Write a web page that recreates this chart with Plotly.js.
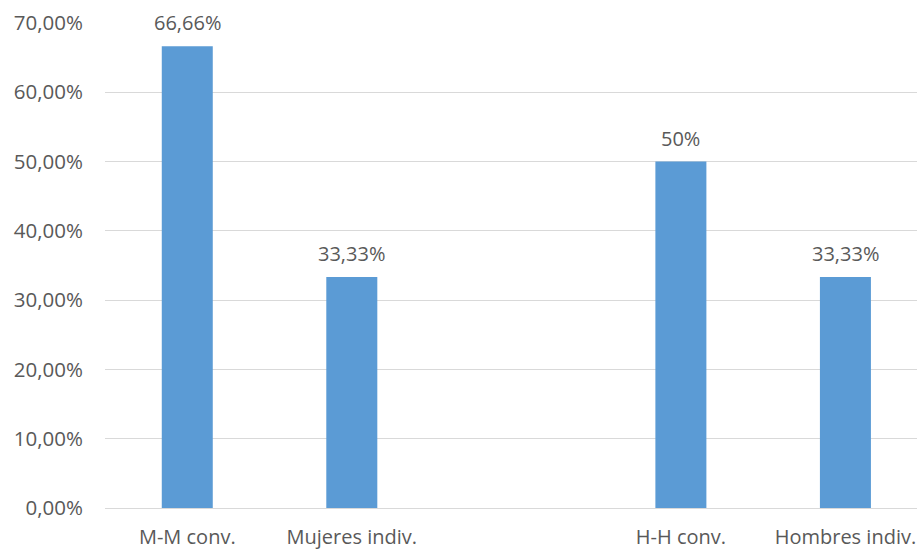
<!DOCTYPE html>
<html>
<head>
<meta charset="utf-8">
<script src="https://cdn.plot.ly/plotly-3.0.1.min.js"></script>
<style>html,body{margin:0;padding:0;background:#fff;}</style>
</head>
<body>
<div id="chart" style="width:917px;height:553px;"></div>
<script>
const categories = ["M-M conv.", "Mujeres indiv.", "H-H conv.", "Hombres indiv."];
const positions = [0, 1, 3, 4];
const values = [0.6666, 0.3333, 0.50, 0.3333];
const valueLabels = ["66,66%", "33,33%", "50%", "33,33%"];
const yTicks = [0, 0.1, 0.2, 0.3, 0.4, 0.5, 0.6, 0.7];

const textColor = "#595959";
const fontFamily = "Open Sans, sans-serif";

const trace = {
  type: "bar",
  x: positions,
  y: values,
  marker: {color: "#5B9BD5"},
  hoverinfo: "none"
};

const annotations = positions.map((p, i) => ({
  x: p, y: values[i], xref: "x", yref: "y",
  text: valueLabels[i], showarrow: false,
  yanchor: "bottom", yshift: 8,
  font: {family: fontFamily, size: 20, color: textColor}
}));

const layout = {
  width: 917, height: 553,
  margin: {l: 105, r: 0, t: 23, b: 45},
  paper_bgcolor: "#fff", plot_bgcolor: "#fff",
  separators: ",.",
  bargap: 0.69,
  showlegend: false,
  xaxis: {
    range: [-0.5, 4.435],
    tickvals: positions,
    ticktext: categories,
    showgrid: false, zeroline: false, showline: false, ticks: "",
    ticklabelstandoff: 15,
    tickfont: {family: fontFamily, size: 20, color: textColor}
  },
  yaxis: {
    range: [0, 0.7],
    tickvals: yTicks,
    tickformat: ".2%",
    showgrid: true, gridcolor: "#D9D9D9", gridwidth: 1,
    zeroline: true, zerolinecolor: "#D9D9D9", zerolinewidth: 1,
    showline: false, ticks: "",
    ticklabelstandoff: 21,
    tickfont: {family: fontFamily, size: 20.5, color: textColor}
  },
  annotations: annotations
};

Plotly.newPlot("chart", [trace], layout, {staticPlot: true, displayModeBar: false});
</script>
</body>
</html>
